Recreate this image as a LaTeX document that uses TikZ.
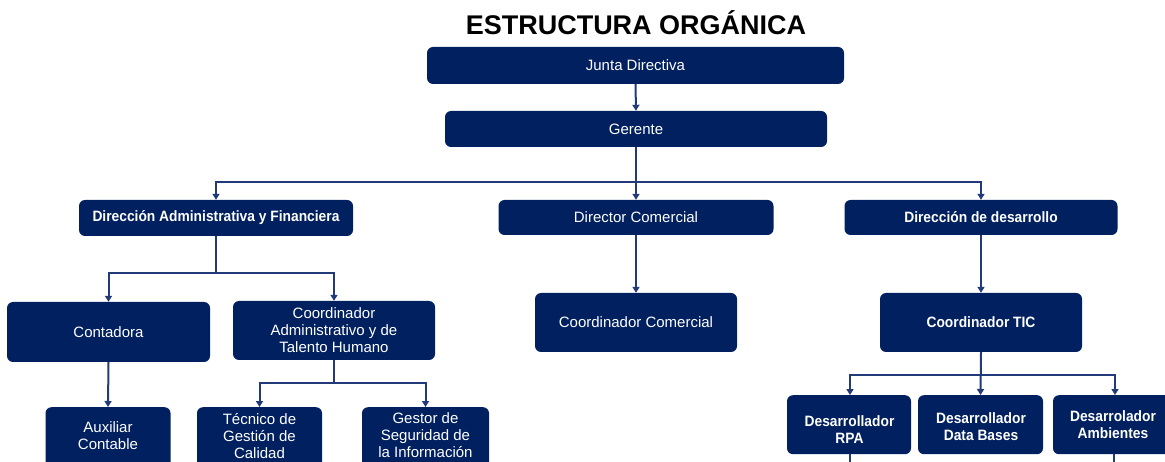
\documentclass[tikz,border=0pt]{standalone}
\usepackage{fontspec}
\setmainfont{Liberation Sans}
\newfontfamily\condb[FakeStretch=0.92]{Liberation Sans}
\usetikzlibrary{arrows.meta}
\definecolor{boxblue}{RGB}{0,32,96}
\definecolor{linkblue}{RGB}{34,58,122}
\begin{document}
\begin{tikzpicture}[x=1pt,y=-1pt,
  orgbox/.style={fill=boxblue, rounded corners=6pt, inner sep=0pt, text=white, align=center,
                 font=\fontsize{15}{17}\selectfont},
  boldbox/.style={orgbox, font=\condb\bfseries\fontsize{15}{17}\selectfont},
  lbl/.style={text=white, align=center, inner sep=0pt, font=\fontsize{15}{17}\selectfont},
  blbl/.style={lbl, font=\condb\bfseries\fontsize{15}{17}\selectfont},
  link/.style={draw=linkblue, line width=2pt},
  arr/.style={link, -{Triangle[width=7pt,length=6pt]}}]
\useasboundingbox (0,0) rectangle (1165,462);
\clip (0,0) rectangle (1165,462);
\fill[white] (0,0) rectangle (1165,462);

% title
\node[font=\bfseries\fontsize{27}{30}\selectfont, inner sep=0pt] (title) at (636,23) {ESTRUCTURA ORGÁNICA};

% level 1-2
\node[orgbox, minimum width=417pt, minimum height=37pt] (junta) at (635.5,65.5) {Junta Directiva};
\node[orgbox, minimum width=382pt, minimum height=36pt] (gerente) at (636,129) {Gerente};

% level 3
\node[boldbox, minimum width=274pt, minimum height=36pt] (daf) at (216,218) {Dirección Administrativa y Financiera};
\node[orgbox, minimum width=275pt, minimum height=35pt] (dircom) at (636,217.5) {Director Comercial};
\node[boldbox, minimum width=273pt, minimum height=35pt] (dirdes) at (981,217.5) {Dirección de desarrollo};

% level 4
\node[orgbox, minimum width=203pt, minimum height=60pt] (conta) at (108.5,332) {Contadora};
\node[orgbox, minimum width=202pt, minimum height=59pt] (coordadm) at (334,330.5) {Coordinador\\Administrativo y de\\Talento Humano};
\node[orgbox, minimum width=202pt, minimum height=59pt] (coordcom) at (636,322.5) {Coordinador Comercial};
\node[boldbox, minimum width=202pt, minimum height=59pt] (coordtic) at (981,322.5) {Coordinador TIC};

% level 5, left (boxes cut by the bottom edge)
\node[orgbox, minimum width=125pt, minimum height=80pt, anchor=north] (aux) at (108,407) {};
\node[lbl] (auxt) at (108,436) {Auxiliar\\Contable};
\node[orgbox, minimum width=125pt, minimum height=80pt, anchor=north] (tec) at (259.5,407) {};
\node[lbl] (tect) at (259.5,436) {Técnico de\\Gestión de\\Calidad};
\node[orgbox, minimum width=127pt, minimum height=80pt, anchor=north] (gest) at (425.5,407) {};
\node[lbl] (gestt) at (425.5,435.5) {Gestor de\\Seguridad de\\la Información};

% level 5, right
\node[orgbox, minimum width=124pt, minimum height=59pt, anchor=north] (rpa) at (849,395) {};
\node[blbl] (rpat) at (849.5,429.5) {Desarrollador\\RPA};
\node[orgbox, minimum width=125pt, minimum height=59pt, anchor=north] (db) at (980.5,395) {};
\node[blbl] (dbt) at (981,426.5) {Desarrollador\\Data Bases};
\node[orgbox, minimum width=120pt, minimum height=59pt, anchor=north] (amb) at (1113,395) {};
\node[blbl] (ambt) at (1113,424.5) {Desarrolador\\Ambientes};
\coordinate (rpaout) at (850,470);
\coordinate (ambout) at (1114,470);

% connectors
\draw[arr] (junta.south) -- (gerente.north);
\coordinate (bus1) at (636,182);
\draw[arr] (gerente.south) -- (dircom.north);
\draw[arr] (bus1) -| (daf.north);
\draw[arr] (bus1) -| (dirdes.north);

\coordinate (bus2) at (216,273);
\draw[link] (daf.south) -- (bus2);
\draw[arr] (bus2) -| (conta.north);
\draw[arr] (bus2) -| (coordadm.north);

\draw[arr] (conta.south) -- (aux.north);

\coordinate (bus3) at (334,383);
\draw[link] (coordadm.south) -- (bus3);
\draw[arr] (bus3) -| (tec.north);
\draw[arr] (bus3) -| (gest.north);

\draw[arr] (dircom.south) -- (coordcom.north);
\draw[arr] (dirdes.south) -- (coordtic.north);

\coordinate (bus4) at (981,375);
\draw[arr] (coordtic.south) -- (db.north);
\draw[arr] (bus4) -| ([xshift=1pt]rpa.north);
\draw[arr] (bus4) -| ([xshift=2pt]amb.north);
\draw[link] ([xshift=1pt]rpa.south) -- (rpaout);
\draw[link] ([xshift=1pt]amb.south) -- (ambout);
\end{tikzpicture}
\end{document}
